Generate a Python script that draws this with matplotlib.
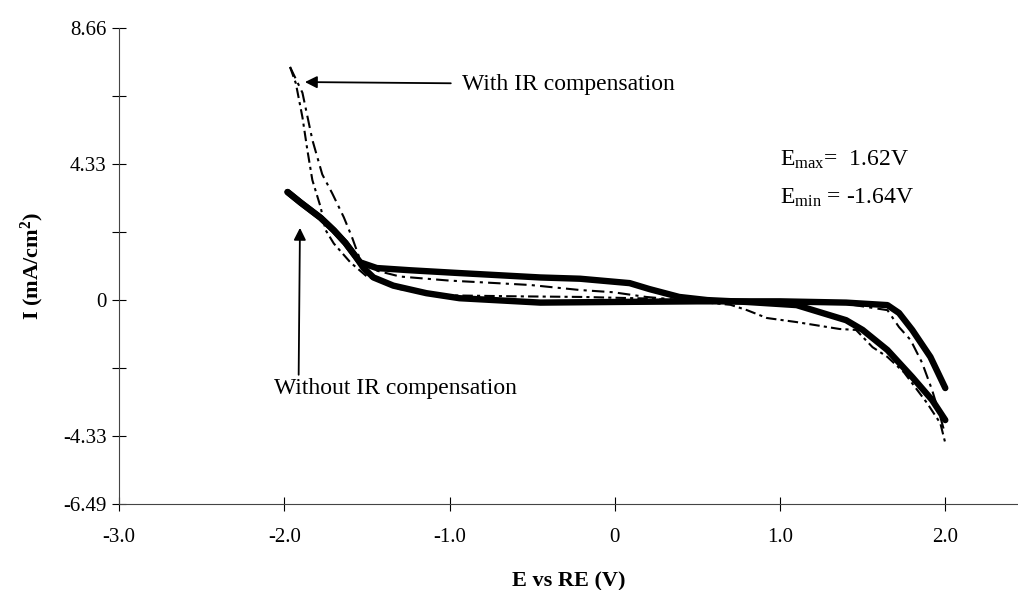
import matplotlib
matplotlib.use("Agg")
import matplotlib.pyplot as plt

plt.rcParams['font.family'] = ['Liberation Serif', 'DejaVu Serif']
plt.rcParams['mathtext.fontset'] = 'custom'
plt.rcParams['mathtext.rm'] = 'Liberation Serif'
plt.rcParams['mathtext.it'] = 'Liberation Serif:italic'
plt.rcParams['mathtext.bf'] = 'Liberation Serif:bold'

# without IR compensation (solid), two branches of the loop
wo_x1 = [-1.98, -1.9, -1.78, -1.7, -1.63, -1.57, -1.52, -1.46, -1.34, -1.14, -0.94, -0.45, 0.0, 0.5, 1.0, 1.4, 1.65, 1.72, 1.80, 1.91, 2.0]
wo_y1 = [3.44, 3.1, 2.62, 2.22, 1.82, 1.4, 1.02, 0.72, 0.46, 0.22, 0.06, -0.08, -0.06, -0.04, -0.04, -0.08, -0.16, -0.41, -0.95, -1.81, -2.8]
wo_x2 = [-1.98, -1.9, -1.78, -1.7, -1.63, -1.57, -1.54, -1.44, -1.24, -0.94, -0.45, -0.21, 0.09, 0.21, 0.39, 0.56, 0.8, 1.10, 1.20, 1.40, 1.50, 1.65, 1.80, 1.92, 2.0]
wo_y2 = [3.44, 3.1, 2.62, 2.22, 1.82, 1.4, 1.2, 1.02, 0.95, 0.86, 0.72, 0.68, 0.54, 0.35, 0.1, 0.0, -0.06, -0.16, -0.32, -0.64, -0.95, -1.59, -2.45, -3.18, -3.82]

# with IR compensation (dash-dot), two branches
ir_x1 = [-1.965, -1.89, -1.83, -1.77, -1.71, -1.64, -1.59, -1.54, -1.45, -1.3, -1.0, -0.82, -0.51, -0.21, -0.01, 0.19, 0.4, 0.6, 1.0, 1.4, 1.65, 1.72, 1.79, 1.86, 1.92, 1.97, 1.99]
ir_y1 = [7.42, 6.6, 5.1, 4.0, 3.4, 2.64, 2.0, 1.27, 0.95, 0.75, 0.62, 0.57, 0.48, 0.32, 0.25, 0.1, 0.0, -0.05, -0.08, -0.12, -0.32, -0.86, -1.27, -2.0, -2.86, -3.72, -4.1]
ir_x2 = [-1.965, -1.93, -1.89, -1.86, -1.83, -1.78, -1.75, -1.7, -1.6, -1.5, -1.3, -1.0, -0.6, -0.2, 0.2, 0.5, 0.7, 0.8, 0.92, 1.1, 1.36, 1.46, 1.56, 1.65, 1.75, 1.89, 1.97, 2.0]
ir_y2 = [7.42, 6.9, 5.82, 4.77, 3.82, 2.96, 2.23, 1.8, 1.2, 0.75, 0.35, 0.15, 0.12, 0.1, 0.05, -0.05, -0.15, -0.32, -0.57, -0.70, -0.92, -0.95, -1.5, -1.81, -2.3, -3.28, -3.92, -4.55]

x_ticks = [-3.0, -2.0, -1.0, 0.0, 1.0, 2.0]
x_labels = ['-3.0', '-2.0', '-1.0', '0', '1.0', '2.0']
y_ticks = [8.66, 6.495, 4.33, 2.165, 0.0, -2.165, -4.33, -6.49]
y_labels = ['8.66', '', '4.33', '', '0', '', '-4.33', '-6.49']

fig = plt.figure(figsize=(10.18, 5.90), dpi=100)
ax = fig.add_axes([0.1169, 0.1458, 0.8831, 0.8067])

ax.plot(wo_x1, wo_y1, color='black', lw=4.6, solid_capstyle='round', solid_joinstyle='round')
ax.plot(wo_x2, wo_y2, color='black', lw=4.6, solid_capstyle='round', solid_joinstyle='round')
ax.plot(ir_x1, ir_y1, color='black', lw=1.5, linestyle=(0, (6, 2.5, 1.5, 2.5)))
ax.plot(ir_x2, ir_y2, color='black', lw=1.5, linestyle=(0, (5, 2, 1.5, 2)))

ax.set_xlim(-3.0, 2.44)
ax.set_ylim(-6.49, 8.66)
ax.set_xticks(x_ticks)
ax.set_xticklabels(x_labels)
ax.set_yticks(y_ticks)
ax.set_yticklabels(y_labels)
ax.tick_params(direction='inout', length=10, width=0.8, labelsize=15, colors='black')
ax.tick_params(axis='x', pad=12)
ax.tick_params(axis='y', pad=4)
for s in ['top', 'right']:
    ax.spines[s].set_visible(False)
for s in ['left', 'bottom']:
    ax.spines[s].set_linewidth(0.8)
    ax.spines[s].set_color('#444444')

ax.set_xlabel('E vs RE (V)', fontsize=16, fontweight='bold', labelpad=18)
ax.set_ylabel('I (mA/cm$^\\mathbf{2}$)', fontsize=16, fontweight='bold', labelpad=12)

ax.annotate('With IR compensation', xy=(-1.875, 6.94), xytext=(-0.925, 6.87),
            fontsize=17, va='center', ha='left',
            arrowprops=dict(arrowstyle='-|>', color='black', lw=1.3, mutation_scale=18,
                            shrinkA=6, shrinkB=0))
ax.annotate('Without IR compensation', xy=(-1.905, 2.3), xytext=(-2.06, -2.8),
            fontsize=17, va='center', ha='left',
            arrowprops=dict(arrowstyle='-|>', color='black', lw=1.3, mutation_scale=18,
                            shrinkA=0, shrinkB=0, relpos=(0.1, 1.0)))

ax.text(1.0, 4.45, r'E$_{\rm max}$=  1.62V', fontsize=17, ha='left', va='center')
ax.text(1.0, 3.25, r'E$_{\rm min}$ = -1.64V', fontsize=17, ha='left', va='center')

fig.savefig('out.png', dpi=100)
